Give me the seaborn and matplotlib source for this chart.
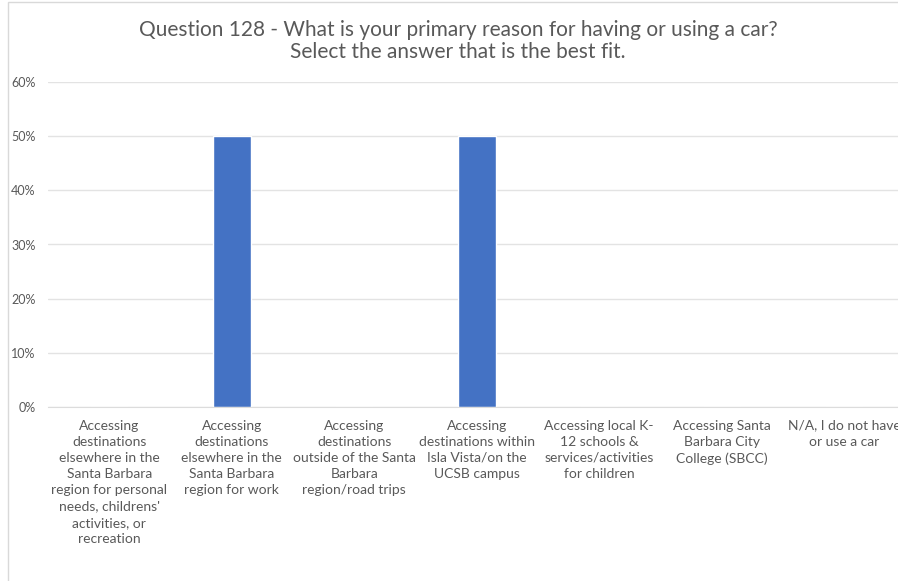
import matplotlib
matplotlib.use("Agg")
import matplotlib.pyplot as plt
import seaborn as sns
import pandas as pd
from matplotlib.patches import Rectangle
from matplotlib.ticker import PercentFormatter

# survey answers (labels wrapped as in the original chart)
categories = [
    "Accessing\ndestinations\nelsewhere in the\nSanta Barbara\nregion for personal\nneeds, childrens'\nactivities, or\nrecreation",
    "Accessing\ndestinations\nelsewhere in the\nSanta Barbara\nregion for work",
    "Accessing\ndestinations\noutside of the Santa\nBarbara\nregion/road trips",
    "Accessing\ndestinations within\nIsla Vista/on the\nUCSB campus",
    "Accessing local K-\n12 schools &\nservices/activities\nfor children",
    "Accessing Santa\nBarbara City\nCollege (SBCC)",
    "N/A, I do not have\nor use a car",
]
shares = [0.0, 0.5, 0.0, 0.5, 0.0, 0.0, 0.0]

df = pd.DataFrame({"answer": categories, "share": shares})

sns.set_style("white")
plt.rcParams["font.family"] = ["Lato", "DejaVu Sans"]
grey = "#595959"

fig = plt.figure(figsize=(8.98, 5.81), dpi=100)
# chart frame
fig.patches.append(Rectangle((8 / 898, -0.1), 1.2, 1.1 - 2 / 581,
                             transform=fig.transFigure, fill=False,
                             edgecolor="#d9d9d9", linewidth=1))
ax = fig.add_axes([48 / 898, 1 - 407 / 581, 857.5 / 898, 325 / 581])

sns.barplot(data=df, x="answer", y="share", color="#4472C4", width=0.31,
            saturation=1, ax=ax)

ax.set_ylim(0, 0.6)
ax.set_yticks([0, 0.1, 0.2, 0.3, 0.4, 0.5, 0.6])
ax.yaxis.set_major_formatter(PercentFormatter(1.0, decimals=0))
ax.grid(axis="y", color="#e3e3e3", linewidth=1)
ax.set_axisbelow(True)
for s in ["top", "right", "left"]:
    ax.spines[s].set_visible(False)
ax.spines["bottom"].set_color("#dcdcdc")
ax.tick_params(axis="y", length=0, pad=9, labelsize=9, labelcolor=grey)
ax.tick_params(axis="x", length=0, pad=9, labelsize=10, labelcolor=grey)
for lbl in ax.get_xticklabels():
    lbl.set_linespacing(1.42)
ax.set_xlabel("")
ax.set_ylabel("")

fig.text(458 / 898, 1 - 41 / 581,
         "Question 128 - What is your primary reason for having or using a car?\nSelect the answer that is the best fit.",
         ha="center", va="center", fontsize=15, color=grey, linespacing=1.15)

fig.savefig("out.png", dpi=100)
